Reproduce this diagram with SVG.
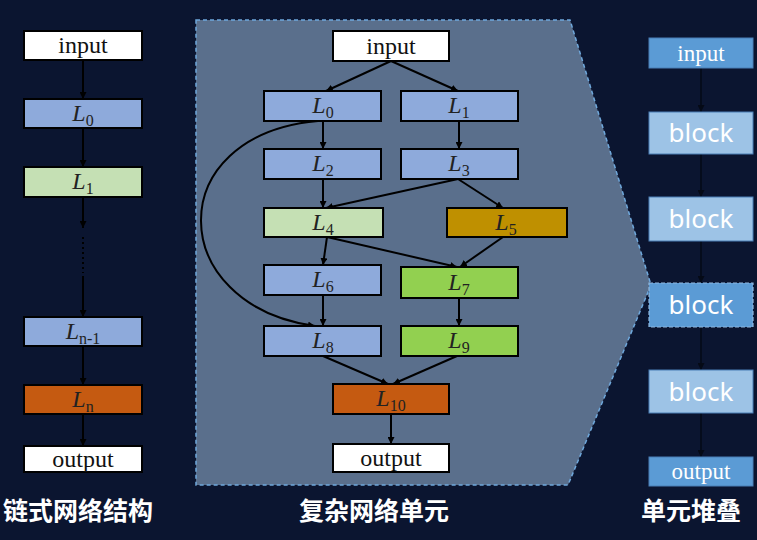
<svg xmlns="http://www.w3.org/2000/svg" width="757" height="540" viewBox="0 0 757 540">
<defs>
<marker id="ah" viewBox="0 0 10 10" refX="10" refY="5" markerWidth="7" markerHeight="7" orient="auto" markerUnits="userSpaceOnUse"><path d="M0,0 L10,5 L0,10 z" fill="#000"/></marker>
<marker id="ahd" viewBox="0 0 10 10" refX="10" refY="5" markerWidth="7" markerHeight="7" orient="auto" markerUnits="userSpaceOnUse"><path d="M0,0 L10,5 L0,10 z" fill="#050a16"/></marker>
<style>
.n{stroke:#000;stroke-width:2}
.w{fill:#fff}.b{fill:#8eaadb}.g{fill:#c5e0b4}.o{fill:#c55a11}.y{fill:#bf9000}.lg{fill:#92d050}
.t{font-family:"Liberation Serif","DejaVu Serif",serif;font-size:24px;fill:#111;text-anchor:middle}
.L{font-family:"Liberation Serif","DejaVu Serif",serif;font-size:24px;fill:#222;text-anchor:middle}
.L tspan.i{font-style:italic}
.c{stroke:#000;stroke-width:2;fill:none;marker-end:url(#ah)}
.cd{stroke:#050a16;stroke-width:1.5;fill:none;marker-end:url(#ahd)}
.rb{stroke:#4a7fb5;stroke-width:1}
.wt{font-family:"Liberation Serif","DejaVu Serif",serif;font-size:23px;fill:#fff;text-anchor:middle}
.bt{font-family:"Noto Sans","DejaVu Sans",sans-serif;font-size:26px;fill:#fff;text-anchor:middle}
.h{font-family:"Noto Sans CJK SC","Noto Sans",sans-serif;font-size:25px;font-weight:bold;fill:#fff;text-anchor:middle}
</style>
</defs>
<rect width="757" height="540" fill="#0b1530"/>

<!-- middle panel -->
<polygon points="196,20 570,20 651,285 568,485 196,485" fill="#5a6f8c" stroke="#6fa8dc" stroke-width="1.5" stroke-dasharray="4,3"/>

<!-- connectors -->
<g id="connectors">
<!-- left column -->
<line class="c" x1="83" y1="60" x2="83" y2="99"/>
<line class="c" x1="83" y1="128" x2="83" y2="167"/>
<line class="c" x1="83" y1="197" x2="83" y2="228"/>
<line x1="83" y1="237" x2="83" y2="273" stroke="#000" stroke-width="2" stroke-dasharray="2,3"/>
<line class="c" x1="83" y1="276" x2="83" y2="317"/>
<line class="c" x1="83" y1="346" x2="83" y2="385"/>
<line class="c" x1="83" y1="414" x2="83" y2="446"/>
<!-- middle -->
<line class="c" x1="391" y1="61" x2="326" y2="91"/>
<line class="c" x1="391" y1="61" x2="458" y2="91"/>
<line class="c" x1="323" y1="121" x2="323" y2="149"/>
<line class="c" x1="459" y1="121" x2="459" y2="149"/>
<line class="c" x1="323" y1="179" x2="323" y2="208"/>
<line class="c" x1="458" y1="179" x2="326" y2="208"/>
<line class="c" x1="458" y1="179" x2="503" y2="208"/>
<line class="c" x1="327" y1="237" x2="323" y2="265"/>
<line class="c" x1="327" y1="237" x2="457" y2="267"/>
<line class="c" x1="503" y1="237" x2="460" y2="267"/>
<path class="c" d="M318,121 C160,135 165,305 315,326"/>
<line class="c" x1="323" y1="295" x2="323" y2="326"/>
<line class="c" x1="459" y1="298" x2="459" y2="326"/>
<line class="c" x1="323" y1="356" x2="388" y2="384"/>
<line class="c" x1="457" y1="356" x2="393" y2="384"/>
<line class="c" x1="391" y1="414" x2="391" y2="444"/>
<!-- right -->
<line class="cd" x1="701" y1="68" x2="701" y2="112"/>
<line class="cd" x1="701" y1="154" x2="701" y2="197"/>
<line class="cd" x1="701" y1="241" x2="701" y2="283"/>
<line class="cd" x1="701" y1="327" x2="701" y2="370"/>
<line class="cd" x1="701" y1="413" x2="701" y2="457"/>
</g>

<!-- left column nodes -->
<g id="chain-input"><rect class="n w" x="24" y="31" width="118" height="29"/><text class="t" x="83" y="53">input</text></g>
<g id="chain-L0"><rect class="n b" x="24" y="99" width="118" height="29"/><text class="L" x="83" y="121"><tspan class="i">L</tspan><tspan font-size="16" dy="5">0</tspan></text></g>
<g id="chain-L1"><rect class="n g" x="24" y="167" width="118" height="30"/><text class="L" x="83" y="189"><tspan class="i">L</tspan><tspan font-size="16" dy="5">1</tspan></text></g>
<g id="chain-Ln-1"><rect class="n b" x="24" y="317" width="118" height="29"/><text class="L" x="83" y="339"><tspan class="i">L</tspan><tspan font-size="16" dy="5">n-1</tspan></text></g>
<g id="chain-Ln"><rect class="n o" x="24" y="385" width="118" height="29"/><text class="L" x="83" y="407"><tspan class="i">L</tspan><tspan font-size="16" dy="5">n</tspan></text></g>
<g id="chain-output"><rect class="n w" x="24" y="446" width="118" height="26"/><text class="t" x="83" y="467">output</text></g>

<!-- middle nodes -->
<g id="m-input"><rect class="n w" x="333" y="31" width="116" height="30"/><text class="t" x="391" y="54">input</text></g>
<g id="m-L0"><rect class="n b" x="264" y="91" width="117" height="30"/><text class="L" x="323" y="113"><tspan class="i">L</tspan><tspan font-size="16" dy="5">0</tspan></text></g>
<g id="m-L1"><rect class="n b" x="401" y="91" width="117" height="30"/><text class="L" x="459" y="113"><tspan class="i">L</tspan><tspan font-size="16" dy="5">1</tspan></text></g>
<g id="m-L2"><rect class="n b" x="264" y="149" width="117" height="30"/><text class="L" x="323" y="171"><tspan class="i">L</tspan><tspan font-size="16" dy="5">2</tspan></text></g>
<g id="m-L3"><rect class="n b" x="401" y="149" width="117" height="30"/><text class="L" x="459" y="171"><tspan class="i">L</tspan><tspan font-size="16" dy="5">3</tspan></text></g>
<g id="m-L4"><rect class="n g" x="264" y="208" width="119" height="29"/><text class="L" x="323" y="230"><tspan class="i">L</tspan><tspan font-size="16" dy="5">4</tspan></text></g>
<g id="m-L5"><rect class="n y" x="447" y="208" width="120" height="29"/><text class="L" x="506" y="230"><tspan class="i">L</tspan><tspan font-size="16" dy="5">5</tspan></text></g>
<g id="m-L6"><rect class="n b" x="264" y="265" width="117" height="30"/><text class="L" x="323" y="287"><tspan class="i">L</tspan><tspan font-size="16" dy="5">6</tspan></text></g>
<g id="m-L7"><rect class="n lg" x="401" y="267" width="117" height="31"/><text class="L" x="459" y="290"><tspan class="i">L</tspan><tspan font-size="16" dy="5">7</tspan></text></g>
<g id="m-L8"><rect class="n b" x="264" y="326" width="117" height="30"/><text class="L" x="323" y="348"><tspan class="i">L</tspan><tspan font-size="16" dy="5">8</tspan></text></g>
<g id="m-L9"><rect class="n lg" x="401" y="326" width="117" height="30"/><text class="L" x="459" y="348"><tspan class="i">L</tspan><tspan font-size="16" dy="5">9</tspan></text></g>
<g id="m-L10"><rect class="n o" x="333" y="384" width="116" height="30"/><text class="L" x="391" y="406"><tspan class="i">L</tspan><tspan font-size="16" dy="5">10</tspan></text></g>
<g id="m-output"><rect class="n w" x="333" y="444" width="116" height="28"/><text class="t" x="391" y="466">output</text></g>

<!-- right column nodes -->
<g id="s-input"><rect class="rb" x="649" y="38" width="104" height="30" fill="#5b9bd5"/><text class="wt" x="701" y="61">input</text></g>
<g id="s-block1"><rect class="rb" x="649" y="112" width="104" height="42" fill="#9dc3e6"/><text class="bt" x="701" y="142">block</text></g>
<g id="s-block2"><rect class="rb" x="649" y="197" width="104" height="44" fill="#9dc3e6"/><text class="bt" x="701" y="228">block</text></g>
<g id="s-block3"><rect x="649" y="283" width="104" height="44" fill="#5b9bd5" stroke="#8fb8e0" stroke-width="1.2" stroke-dasharray="4,2"/><text class="bt" x="701" y="314">block</text></g>
<g id="s-block4"><rect class="rb" x="649" y="370" width="104" height="43" fill="#9dc3e6"/><text class="bt" x="701" y="401">block</text></g>
<g id="s-output"><rect class="rb" x="649" y="457" width="104" height="29" fill="#5b9bd5"/><text class="wt" x="701" y="479">output</text></g>

<!-- titles -->
<text class="h" x="78" y="520">链式网络结构</text>
<text class="h" x="374" y="520">复杂网络单元</text>
<text class="h" x="691" y="520">单元堆叠</text>
</svg>
